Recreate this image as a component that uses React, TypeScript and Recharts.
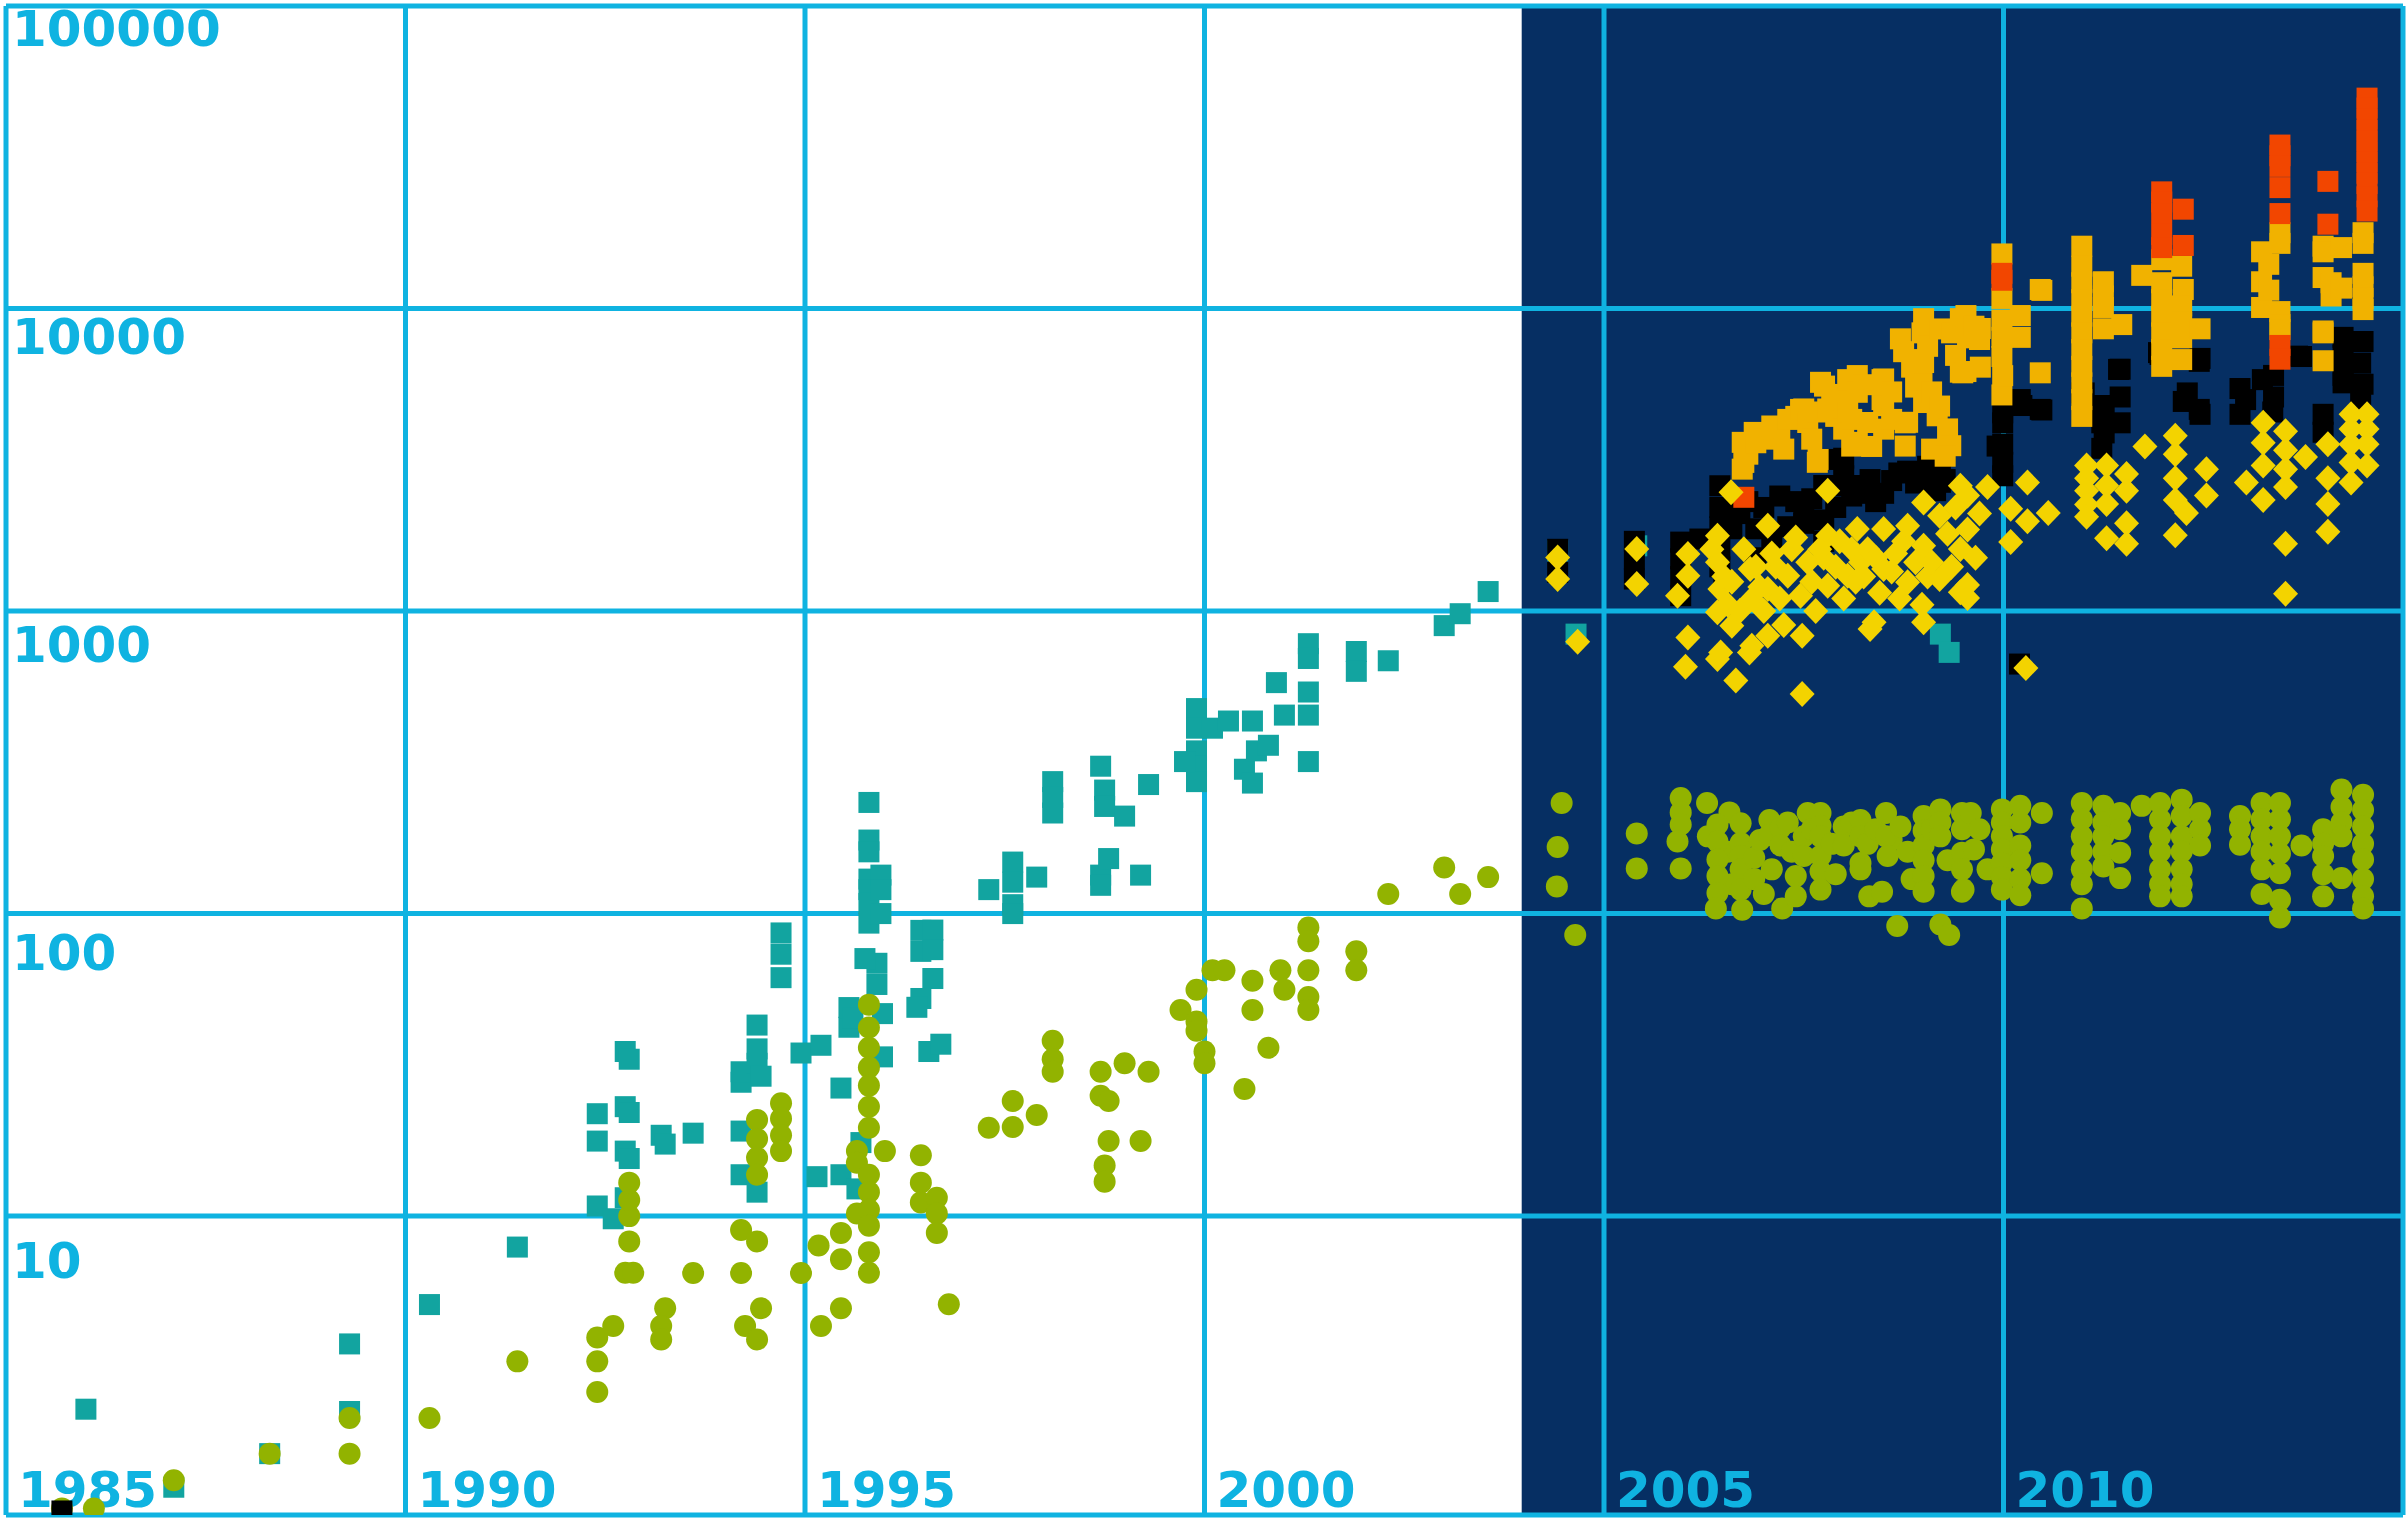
import React from 'react';
import { ScatterChart, Scatter, XAxis, YAxis, ReferenceLine, ReferenceArea } from 'recharts';

// [year, value]
const teal: [number, number][] = [
  [1986.0, 2.3], [1987.1, 1.27], [1988.3, 1.64], [1989.3, 3.78], [1989.3, 2.26], [1990.3, 5.1], [1991.4, 7.9],
  [1992.4, 21.8], [1992.4, 17.7], [1992.4, 10.8], [1992.6, 9.8],
  [1992.75, 35], [1992.8, 33], [1992.75, 23], [1992.8, 22], [1992.75, 16.4], [1992.8, 15.5], [1992.75, 11.5],
  [1993.2, 18.5], [1993.25, 17.3], [1993.6, 18.8],
  [1994.2, 27.7], [1994.2, 30], [1994.2, 19.1], [1994.2, 13.7],
  [1994.4, 42.8], [1994.4, 35.7], [1994.4, 32], [1994.45, 29], [1994.4, 12],
  [1994.7, 86.3], [1994.7, 73.4], [1994.7, 61.4], [1994.95, 34.6],
  [1995.15, 13.5], [1995.2, 36.7], [1995.45, 26.5], [1995.55, 42.1], [1995.55, 48.9], [1995.45, 13.7], [1995.6, 45],
  [1995.8, 233], [1995.8, 175], [1995.8, 160], [1995.8, 130], [1995.8, 120], [1995.8, 108], [1995.8, 93],
  [1995.95, 134], [1995.95, 120], [1995.95, 100], [1995.9, 68.5], [1995.9, 58.3], [1995.97, 46.7], [1995.97, 33.6],
  [1995.75, 71], [1995.65, 12.3], [1995.7, 17.5],
  [1996.45, 88], [1996.6, 88.2], [1996.45, 75], [1996.6, 76], [1996.6, 61], [1996.45, 52.4], [1996.4, 49], [1996.55, 35], [1996.7, 37],
  [1997.3, 120], [1997.6, 148], [1997.6, 127], [1997.6, 107], [1997.6, 100], [1997.9, 132],
  [1998.1, 273], [1998.1, 242], [1998.1, 215],
  [1998.7, 307], [1998.75, 256], [1998.75, 226], [1998.7, 134], [1998.7, 124], [1998.8, 152],
  [1999.0, 210], [1999.2, 134], [1999.3, 267],
  [1999.9, 476], [1999.9, 410], [1999.9, 345], [1999.9, 307], [1999.9, 273], [1999.75, 318],
  [2000.1, 410], [2000.3, 433], [2000.5, 300], [2000.6, 433], [2000.6, 270], [2000.65, 345], [2000.8, 360],
  [2000.9, 580], [2001.0, 453], [2001.3, 318], [2001.3, 540], [2001.3, 780], [2001.3, 697], [2001.3, 453],
  [2001.9, 735], [2001.9, 632], [2002.3, 685], [2003.0, 895], [2003.2, 980], [2003.55, 1160],
  [2004.42, 1581], [2004.65, 839], [2005.41, 1643], [2009.21, 839], [2009.32, 730],
];

const olive: [number, number][] = [
  [1985.7, 1.08], [1986.1, 1.08], [1987.1, 1.34], [1988.3, 1.64], [1989.3, 2.15], [1989.3, 1.64], [1990.3, 2.15],
  [1991.4, 3.31], [1992.4, 3.97], [1992.4, 3.31], [1992.4, 2.62], [1992.6, 4.33],
  [1992.8, 8.25], [1992.75, 6.5], [1992.85, 6.5], [1992.8, 10], [1992.8, 11.3], [1992.8, 12.9],
  [1993.25, 4.96], [1993.2, 4.33], [1993.2, 3.91], [1993.6, 6.49],
  [1994.2, 9.0], [1994.2, 6.49], [1994.25, 4.33], [1994.4, 3.91], [1994.45, 4.96], [1994.4, 8.25],
  [1994.4, 20.8], [1994.4, 18], [1994.4, 15.6], [1994.4, 13.7],
  [1994.7, 23.6], [1994.7, 21], [1994.7, 18.5], [1994.7, 16.4], [1994.95, 6.49],
  [1995.17, 8], [1995.2, 4.33], [1995.45, 8.8], [1995.45, 7.2], [1995.45, 4.96], [1995.65, 16.4], [1995.65, 15], [1995.65, 10.2],
  [1995.8, 50], [1995.8, 42], [1995.8, 36], [1995.8, 31], [1995.8, 27], [1995.8, 23], [1995.8, 19.6],
  [1995.8, 13.7], [1995.8, 12], [1995.8, 10.5], [1995.8, 9.3], [1995.8, 7.6], [1995.8, 6.5], [1996.0, 16.4],
  [1996.45, 15.9], [1996.45, 12.9], [1996.45, 11.1], [1996.65, 11.5], [1996.65, 10.2], [1996.65, 8.8], [1996.8, 5.11],
  [1997.3, 19.6], [1997.6, 19.7], [1997.6, 24], [1997.9, 21.6],
  [1998.1, 38], [1998.1, 33], [1998.1, 30],
  [1998.7, 30], [1998.7, 25], [1998.8, 24], [1998.8, 17.7], [1998.75, 14.7], [1998.75, 13], [1999.0, 32], [1999.2, 17.7], [1999.3, 30],
  [1999.7, 48], [1999.9, 56], [1999.9, 44], [1999.9, 41], [2000.0, 35], [2000.0, 32], [2000.1, 65], [2000.25, 65],
  [2000.5, 26.3], [2000.6, 60], [2000.6, 48], [2000.8, 36], [2000.95, 65], [2001.0, 56],
  [2001.3, 53], [2001.3, 48], [2001.3, 90], [2001.3, 81], [2001.3, 65], [2001.9, 75], [2001.9, 65],
  [2002.3, 116], [2003.0, 142], [2003.2, 116], [2003.55, 132],
  [2004.47, 232], [2004.42, 166], [2004.41, 123], [2004.64, 85],
  [2005.41, 184], [2005.41, 141],
  [2005.96, 241], [2005.96, 216], [2005.96, 197], [2005.92, 173], [2005.96, 141],
  [2006.29, 232], [2006.3, 180], [2006.57, 216], [2006.55, 160], [2006.6, 125],
  [2006.42, 197], [2006.42, 173], [2006.42, 151], [2006.42, 133], [2006.42, 117], [2006.4, 104],
  [2006.71, 199], [2006.71, 171], [2006.71, 155], [2006.71, 140], [2006.71, 120], [2006.73, 103], [2006.88, 153], [2006.88, 130],
  [2006.95, 175], [2007.0, 116], [2007.07, 204], [2007.07, 182], [2007.1, 140], [2007.21, 192], [2007.21, 168], [2007.23, 104],
  [2007.3, 200], [2007.35, 160], [2007.4, 133], [2007.4, 114], [2007.5, 180], [2007.5, 155], [2007.55, 215], [2007.6, 190],
  [2007.71, 215], [2007.71, 195], [2007.71, 180], [2007.71, 155], [2007.71, 138], [2007.71, 120], [2007.85, 170], [2007.9, 135],
  [2008.0, 194], [2008.0, 168], [2008.1, 200], [2008.21, 204], [2008.21, 180], [2008.21, 147], [2008.21, 140], [2008.3, 170],
  [2008.32, 114], [2008.4, 190], [2008.48, 118], [2008.6, 175],
  [2008.53, 215], [2008.53, 180], [2008.55, 155], [2008.71, 194], [2008.67, 91], [2008.8, 160], [2008.85, 130],
  [2009.0, 210], [2009.0, 188], [2009.0, 168], [2009.0, 150], [2009.0, 133], [2009.0, 118], [2009.1, 190],
  [2009.21, 221], [2009.21, 200], [2009.21, 180], [2009.21, 92], [2009.32, 85], [2009.3, 150],
  [2009.48, 215], [2009.48, 190], [2009.48, 159], [2009.48, 140], [2009.48, 118],
  [2009.59, 215], [2009.63, 163], [2009.5, 120], [2009.7, 190], [2009.8, 140],
  [2009.98, 221], [2009.98, 200], [2009.98, 180], [2009.98, 163], [2009.98, 147], [2009.98, 132], [2009.98, 120],
  [2010.21, 227], [2010.21, 200], [2010.21, 168], [2010.21, 150], [2010.21, 130], [2010.21, 115], [2010.48, 215], [2010.48, 136],
  [2010.98, 232], [2010.98, 205], [2010.98, 180], [2010.98, 160], [2010.98, 140], [2010.98, 125], [2010.98, 104],
  [2011.25, 227], [2011.25, 200], [2011.25, 180], [2011.25, 160], [2011.25, 143],
  [2011.46, 215], [2011.46, 190], [2011.46, 159], [2011.46, 131],
  [2011.73, 227], [2011.96, 232], [2011.96, 205], [2011.96, 180], [2011.96, 160], [2011.96, 140], [2011.96, 125], [2011.96, 114],
  [2012.23, 238], [2012.23, 210], [2012.23, 180], [2012.23, 160], [2012.23, 140], [2012.23, 125], [2012.23, 114],
  [2012.46, 215], [2012.46, 190], [2012.46, 168],
  [2012.96, 210], [2012.96, 190], [2012.96, 169],
  [2013.23, 232], [2013.23, 205], [2013.23, 180], [2013.23, 160], [2013.23, 140], [2013.23, 116],
  [2013.46, 232], [2013.46, 205], [2013.46, 180], [2013.46, 158], [2013.46, 136], [2013.46, 111], [2013.46, 97],
  [2013.73, 168], [2014.0, 190], [2014.0, 170], [2014.0, 155], [2014.0, 135], [2014.0, 114],
  [2014.23, 257], [2014.23, 225], [2014.23, 200], [2014.23, 180], [2014.23, 131],
  [2014.5, 247], [2014.5, 220], [2014.5, 194], [2014.5, 170], [2014.5, 151], [2014.5, 130], [2014.5, 114], [2014.5, 104],
];

const black: [number, number][] = [
  [1985.7, 1.06],
  [2004.42, 1342], [2004.42, 1600],
  [2005.38, 1276], [2005.38, 1486], [2005.38, 1700],
  [2005.96, 1124], [2005.96, 1300], [2005.96, 1490], [2005.96, 1690],
  [2006.2, 1730], [2006.45, 2595], [2006.45, 2200], [2006.45, 1900], [2006.45, 1600], [2006.45, 1400], [2006.5, 1250],
  [2006.6, 1870], [2006.7, 2100], [2006.8, 2300], [2006.9, 1870], [2006.9, 1500], [2007.0, 2200], [2007.1, 1750],
  [2007.2, 2400], [2007.3, 1900], [2007.4, 2300], [2007.5, 2100], [2007.5, 1950], [2007.6, 2350],
  [2007.75, 2600], [2007.75, 2000], [2007.75, 1700], [2007.76, 3170], [2007.9, 2200],
  [2008.0, 3200], [2008.0, 2800], [2007.97, 2590], [2008.1, 2400],
  [2008.2, 2600], [2008.3, 2450], [2008.33, 2720], [2008.4, 2300], [2008.5, 2450], [2008.6, 2700], [2008.69, 2860], [2008.8, 2900],
  [2008.9, 2650], [2009.05, 3010], [2009.1, 2600], [2009.15, 2500], [2009.21, 2945], [2009.27, 2720], [2009.21, 2664],
  [2009.92, 3510], [2009.99, 4520], [2009.99, 4190], [2009.99, 3560], [2009.99, 3100], [2009.99, 2800],
  [2010.2, 668], [2010.21, 5000], [2010.23, 4780], [2010.46, 4640], [2010.48, 4620],
  [2010.98, 5260], [2011.01, 5260],
  [2011.23, 4780], [2011.23, 4190], [2011.23, 3450], [2011.26, 4550], [2011.26, 3880],
  [2011.46, 6300], [2011.46, 5100], [2011.46, 4190], [2011.44, 6290],
  [2011.94, 7150], [2011.96, 7050],
  [2012.25, 4930], [2012.3, 5260], [2012.46, 6840], [2012.46, 4470], [2012.45, 6690], [2012.45, 4640],
  [2012.96, 5440], [2012.96, 4470], [2013.03, 5000], [2013.24, 5820],
  [2013.38, 6010], [2013.38, 5100], [2013.37, 4550], [2013.68, 6960], [2013.73, 6940],
  [2014.0, 4470], [2014.0, 3900], [2014.25, 8030], [2014.25, 6010], [2014.25, 7000], [2014.25, 5680],
  [2014.5, 7780], [2014.5, 5620], [2014.47, 6600], [2014.47, 5000],
];

const orange: [number, number][] = [
  [2006.73, 2945], [2006.73, 3611], [2006.75, 3100], [2006.88, 3895], [2006.8, 3300], [2006.9, 3600], [2007.0, 3700],
  [2007.13, 3993], [2007.1, 4090], [2007.2, 3800], [2007.25, 3430], [2007.3, 4300], [2007.4, 4400],
  [2007.46, 4640], [2007.5, 4655], [2007.55, 4200], [2007.6, 3700], [2007.67, 3102], [2007.68, 4550], [2007.68, 3170],
  [2007.71, 5703], [2007.76, 5540], [2007.8, 4655], [2007.85, 5200], [2007.9, 4400], [2008.0, 3993], [2008.0, 5000],
  [2008.05, 5820], [2008.05, 4550], [2008.1, 3510], [2008.1, 4300],
  [2008.17, 6003], [2008.17, 5286], [2008.17, 3611], [2008.25, 5600], [2008.3, 4200], [2008.35, 3500],
  [2008.48, 5820], [2008.48, 5000], [2008.5, 5850], [2008.5, 4775], [2008.5, 3993], [2008.6, 5300], [2008.6, 4300],
  [2008.71, 7940], [2008.75, 7200], [2008.77, 4190], [2008.77, 3510], [2008.8, 4207], [2008.85, 6400], [2008.9, 5500],
  [2008.98, 8310], [2008.98, 6780], [2008.98, 5820], [2009.0, 9258], [2009.0, 6630], [2009.0, 4890], [2009.05, 7500], [2009.1, 5300],
  [2009.17, 4420], [2009.2, 8560], [2009.2, 4760], [2009.1, 3430], [2009.3, 4000], [2009.4, 7000],
  [2009.34, 3520], [2009.27, 3250], [2009.35, 8310], [2009.46, 9258], [2009.46, 6160], [2009.49, 6130], [2009.55, 8000],
  [2009.53, 9480], [2009.53, 6190], [2009.63, 8740], [2009.71, 8590], [2009.71, 6400], [2009.7, 7900],
  [2009.98, 15150], [2009.98, 10800], [2009.98, 9150], [2009.98, 8030], [2009.98, 6940], [2009.98, 5180], [2009.99, 6000],
  [2010.21, 9480], [2010.21, 8030], [2010.46, 11560], [2010.48, 11480], [2010.46, 6130],
  [2010.98, 16070], [2010.98, 13800], [2010.98, 12170], [2010.98, 10700], [2010.98, 9430], [2010.98, 8310],
  [2010.98, 7320], [2010.98, 6440], [2010.98, 5680], [2010.98, 5000], [2010.98, 4400],
  [2011.25, 12260], [2011.25, 11000], [2011.25, 10080], [2011.25, 8570], [2011.48, 8850], [2011.73, 12870],
  [2011.98, 14500], [2011.98, 12170], [2011.98, 10700], [2011.98, 9430], [2011.98, 8310], [2011.98, 7320], [2011.98, 6440],
  [2012.23, 13800], [2012.25, 11560], [2012.23, 10200], [2012.23, 9000], [2012.23, 8000], [2012.23, 6780], [2012.46, 8570],
  [2013.23, 15400], [2013.23, 12260], [2013.23, 10080], [2013.32, 14000], [2013.32, 11500],
  [2013.46, 17810], [2013.46, 16420], [2013.46, 9770], [2013.46, 8850], [2013.46, 8520],
  [2014.0, 16070], [2014.0, 15400], [2014.0, 12660], [2014.0, 8430], [2014.0, 6720], [2014.0, 8310],
  [2014.1, 12170], [2014.1, 11000], [2014.23, 15900], [2014.23, 11680],
  [2014.5, 17810], [2014.5, 16420], [2014.5, 13070], [2014.5, 11800], [2014.5, 10800], [2014.5, 9920],
];

const red: [number, number][] = [
  [2006.75, 2377],
  [2009.98, 13070], [2009.98, 12400],
  [2011.98, 24300], [2011.98, 22500], [2011.98, 20600], [2011.98, 17570], [2011.98, 15900],
  [2012.25, 21300], [2012.25, 16160],
  [2013.46, 34700], [2013.46, 32000], [2013.46, 29500], [2013.46, 25100], [2013.46, 20600], [2013.46, 7550], [2013.46, 6800],
  [2014.06, 26320], [2014.06, 19000],
  [2014.55, 49600], [2014.55, 46000], [2014.55, 42240], [2014.55, 38800], [2014.55, 35850], [2014.55, 33000],
  [2014.55, 30500], [2014.55, 28000], [2014.55, 25900], [2014.55, 23400], [2014.55, 21000],
];

const yellow: [number, number][] = [
  [2004.42, 1504], [2004.42, 1276], [2004.67, 792],
  [2005.41, 1603], [2005.41, 1229],
  [2005.92, 1124], [2006.05, 1543], [2006.05, 1308], [2006.05, 818], [2006.02, 655],
  [2006.35, 1600], [2006.42, 1774], [2006.59, 2468], [2006.42, 1449], [2006.45, 1182], [2006.42, 990], [2006.42, 694], [2006.65, 589],
  [2006.6, 894], [2006.46, 730], [2006.5, 1300], [2006.55, 1050], [2006.6, 1250], [2006.7, 1000],
  [2006.83, 1377], [2006.85, 1096], [2006.85, 768], [2006.82, 730], [2006.75, 1600], [2006.95, 1200], [2006.9, 1400],
  [2007.05, 1913], [2007.05, 1182], [2007.05, 829], [2007.0, 1000], [2007.15, 1400], [2007.1, 1550], [2007.2, 1100], [2007.25, 900],
  [2007.3, 1308], [2007.46, 1124], [2007.48, 829], [2007.48, 532], [2007.55, 1449], [2007.35, 1600], [2007.6, 1250], [2007.4, 1750],
  [2007.65, 1000], [2007.75, 1500], [2007.8, 2498], [2007.8, 1774], [2007.8, 1212], [2007.7, 1600], [2007.9, 1400], [2007.95, 1700],
  [2008.0, 1100], [2008.05, 1308], [2008.1, 1600], [2008.15, 1250], [2008.17, 1867], [2008.21, 1449], [2008.25, 1300],
  [2008.38, 918], [2008.33, 872], [2008.3, 1600], [2008.4, 1500],
  [2008.5, 1867], [2008.5, 1377], [2008.45, 1150], [2008.6, 1350], [2008.75, 1700], [2008.8, 1913], [2008.8, 1244],
  [2008.65, 1550], [2008.7, 1100], [2008.9, 1450],
  [2009.0, 2285], [2009.0, 1643], [2009.0, 918], [2008.98, 1050], [2009.05, 1300], [2009.2, 1276], [2009.2, 2065], [2009.1, 1450],
  [2009.3, 1800], [2009.35, 1400], [2009.4, 2200],
  [2009.46, 2595], [2009.46, 1603], [2009.46, 1153], [2009.55, 2410], [2009.55, 1860], [2009.55, 1220], [2009.55, 1105],
  [2009.65, 1500], [2009.7, 2100], [2009.8, 2570],
  [2010.09, 2180], [2010.09, 1690], [2010.3, 2660], [2010.3, 1980], [2010.56, 2110], [2010.28, 648],
  [2011.04, 3030], [2011.04, 2750], [2011.04, 2500], [2011.04, 2250], [2011.04, 2050],
  [2011.29, 3030], [2011.29, 2600], [2011.29, 2260], [2011.29, 1740],
  [2011.54, 2840], [2011.54, 2500], [2011.54, 1950], [2011.54, 1670], [2011.77, 3500],
  [2012.15, 3800], [2012.15, 3300], [2012.15, 2750], [2012.15, 2330], [2012.15, 1780], [2012.29, 2110],
  [2012.54, 2940], [2012.54, 2410],
  [2013.04, 2660], [2013.25, 4190], [2013.25, 3600], [2013.25, 3030], [2013.25, 2330],
  [2013.53, 3930], [2013.53, 3400], [2013.53, 2940], [2013.53, 2570], [2013.53, 1670], [2013.53, 1140],
  [2013.78, 3230], [2014.06, 3560], [2014.06, 2750], [2014.06, 2260], [2014.06, 1830],
  [2014.35, 4470], [2014.35, 4000], [2014.35, 3560], [2014.35, 3100], [2014.35, 2660],
  [2014.55, 4470], [2014.55, 4000], [2014.55, 3560], [2014.55, 3030],
];

const yearTicks = [1985, 1990, 1995, 2000, 2005, 2010, 2015];
const valueTicks = [10, 100, 1000, 10000, 100000];
const Y_MIN = 1.028;
const DARK_FROM = 2003.97;

const CYAN = '#0fb3e1';
const NAVY = '#062f63';

const toPts = (arr: [number, number][]) => arr.map(([x, y]) => ({ x, y }));

const square = (fill: string) => (p: any) => (
  <rect x={p.cx - 10.5} y={p.cy - 10.5} width={21} height={21} fill={fill} />
);
const circle = (fill: string) => (p: any) => <circle cx={p.cx} cy={p.cy} r={11} fill={fill} />;
const diamond = (fill: string) => (p: any) => {
  const { cx, cy } = p;
  return <polygon points={`${cx},${cy - 13} ${cx + 12.5},${cy} ${cx},${cy + 13} ${cx - 12.5},${cy}`} fill={fill} />;
};

const labelStyle = { fontFamily: 'DejaVu Sans', fontWeight: 'bold' as const, fontSize: 50, fill: CYAN };

// labels drawn inside the plot, next to each grid line
const yearLabel = (text: number) => (props: any) => {
  const vb = props.viewBox || {};
  return <text x={vb.x + 12} y={vb.y + vb.height - 8} style={labelStyle}>{text}</text>;
};
const valueLabel = (text: number) => (props: any) => {
  const vb = props.viewBox || {};
  // the original labels sit a little lower under each lower grid line
  const drop = 40 + 5.5 * (5 - Math.log10(text));
  return <text x={vb.x + 6} y={vb.y + drop} style={labelStyle}>{text}</text>;
};

const App: React.FC = () => {
  return (
    <div style={{ position: 'absolute', left: 0, top: 0, width: 2406, height: 1518, background: '#fff', overflow: 'hidden' }}>
      <ScatterChart width={2406} height={1518} margin={{ top: 6, right: 3, bottom: 3, left: 6 }}>
        <XAxis dataKey="x" type="number" domain={[1985, 2015]} ticks={yearTicks} allowDataOverflow hide />
        <YAxis dataKey="y" type="number" scale="log" domain={[Y_MIN, 100000]} ticks={valueTicks} allowDataOverflow hide />
        <ReferenceArea x1={DARK_FROM} x2={2015} fill={NAVY} fillOpacity={1} stroke="none" />
        <ReferenceLine y={Y_MIN} stroke={CYAN} strokeWidth={5} />
        {yearTicks.map(y => (
          <ReferenceLine key={'v' + y} x={y} stroke={CYAN} strokeWidth={5} label={{ content: yearLabel(y) }} />
        ))}
        {valueTicks.map(v => (
          <ReferenceLine key={'h' + v} y={v} stroke={CYAN} strokeWidth={5} label={{ content: valueLabel(v) }} />
        ))}
        <Scatter data={toPts(teal)} shape={square('#12a4a0')} isAnimationActive={false} />
        <Scatter data={toPts(olive)} shape={circle('#92b300')} isAnimationActive={false} />
        <Scatter data={toPts(black)} shape={square('#000000')} isAnimationActive={false} />
        <Scatter data={toPts(orange)} shape={square('#f1b200')} isAnimationActive={false} />
        <Scatter data={toPts(red)} shape={square('#f24600')} isAnimationActive={false} />
        <Scatter data={toPts(yellow)} shape={diamond('#f3d300')} isAnimationActive={false} />
      </ScatterChart>
    </div>
  );
};

export default App;
